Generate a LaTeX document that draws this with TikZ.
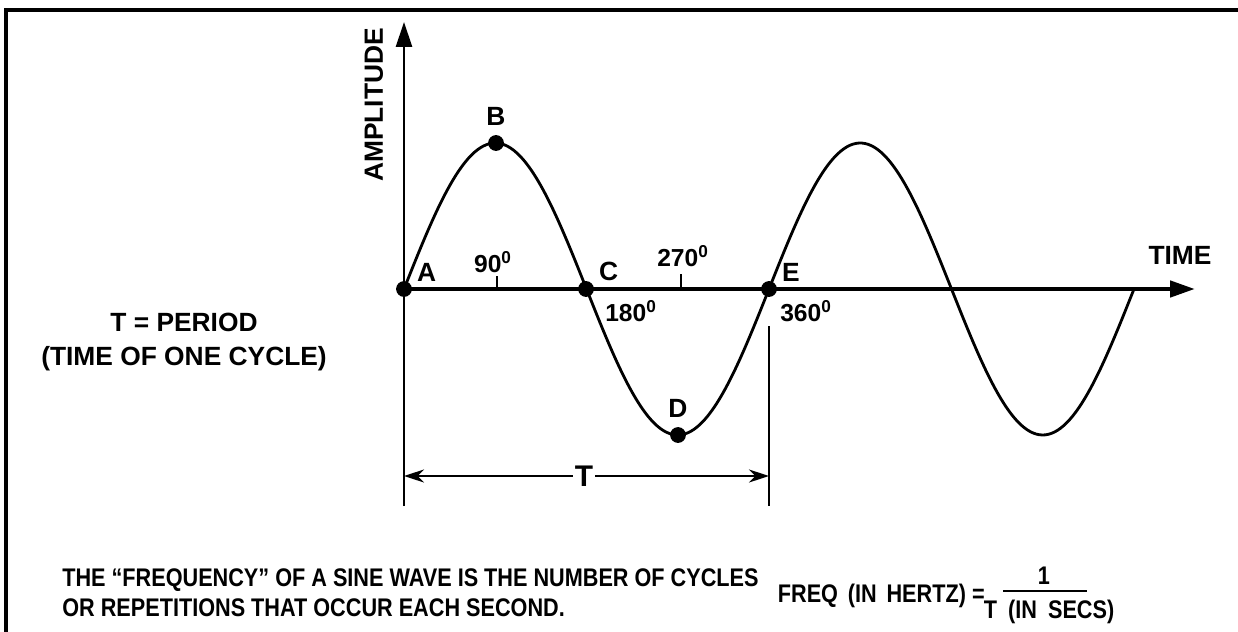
\documentclass[tikz,border=0pt]{standalone}
\usepackage{fontspec}
\setmainfont{Liberation Sans}
\newfontfamily\narrowsans{Liberation Sans}[FakeStretch=0.85,Ligatures=TeX]
\usepackage{tikz}
\usetikzlibrary{arrows.meta,positioning,calc}

\begin{document}
\begin{tikzpicture}[
    x=0.02cm,y=-0.02cm,
    node distance=2pt and 2pt,
    axis/.style={line width=2.6pt,-{Triangle[length=5mm,width=3.2mm]}},
    yaxis/.style={line width=1.6pt,-{Triangle[length=5mm,width=3.2mm]}},
    wave/.style={line width=1.6pt},
    dot/.style={circle,fill=black,inner sep=0pt,minimum size=9pt},
    lbl/.style={font=\bfseries\fontsize{15}{17}\selectfont,inner sep=1pt},
    deg/.style={font=\bfseries\fontsize{14}{16}\selectfont,inner sep=1pt},
    txt/.style={font=\narrowsans\bfseries\fontsize{14.5}{17}\selectfont,inner sep=0pt},
    tick/.style={line width=1pt},
    dim/.style={line width=1.2pt,-{Stealth[length=4mm,width=2.6mm]}},
    bar/.style={line width=1.6pt}
  ]
    \useasboundingbox (0,0) rectangle (1238,632);
    % frame
    \draw[line width=2.6pt] (6,632) -- (6,10) -- (1238,10);

    % points on the wave
    \node[dot] (A) at (404,289) {};
    \node[dot] (B) at (496,143) {};
    \node[dot] (C) at (586,289) {};
    \node[dot] (D) at (678,435) {};
    \node[dot] (E) at (769,289) {};
    \coordinate (ybot) at (404,506);
    \coordinate (ytop) at (404,22);
    \coordinate (xend) at (1195,289);
    \coordinate (Ebot) at (769,506);
    \coordinate (Etop) at (769,326);

    % axes
    \draw[yaxis] (ybot) -- (ytop);
    \draw[axis] (A.center) -- (xend);
    \draw[tick] (497,289) -- ++(0,-13);
    \draw[tick] (681,289) -- ++(0,-15);
    \draw[bar] (Etop) -- (Ebot);

    % sine wave, two cycles
    \draw[wave] plot[domain=0:730,samples=240,smooth] ({404+\x},{289-146*sin(\x/365*360)});

    % labels
    \node[lbl,above right=0pt and 3pt of A] {A};
    \node[lbl,above=4pt of B] {B};
    \node[lbl,above right=0pt and 3pt of C] {C};
    \node[lbl,above=4pt of D] {D};
    \node[lbl,above right=0pt and 3pt of E] {E};
    \node[deg] (deg90) at (493,262) {90\textsuperscript{0}};
    \node[deg] (deg180) at (631,311) {180\textsuperscript{0}};
    \node[deg] (deg270) at (683,256) {270\textsuperscript{0}};
    \node[deg] (deg360) at (806,311) {360\textsuperscript{0}};
    \node[lbl] (time) at (1180,255) {TIME};
    \node[lbl,rotate=90] (amp) at (374,105) {AMPLITUDE};

    % period
    \node[lbl,font=\bfseries\fontsize{17}{17}\selectfont] (T) at (584,476) {T};
    \draw[dim] (T.west) -- (A.center |- T.west);
    \draw[dim] (T.east) -- (Ebot |- T.east);
    \node[lbl,align=center,font=\bfseries\fontsize{15}{19}\selectfont] (period) at (184,342)
      {T = PERIOD\\(TIME OF ONE CYCLE)};

    % frequency note
    \node[txt,anchor=west,align=left] (note) at (62,593)
      {THE “FREQUENCY” OF A SINE WAVE IS THE NUMBER OF CYCLES\\
       OR REPETITIONS THAT OCCUR EACH SECOND.};
    \node[txt] (num) at (1044,576) {1};
    \node[txt] (den) at (1049,612) {T\hspace{0.2em} (IN\hspace{0.2em} SECS)};
    \draw[line width=1pt] (1003,591) -- (1087,591);
    \node[txt,anchor=east] (freq) at (985,596) {FREQ\hspace{0.15em} (IN\hspace{0.15em} HERTZ) =};
  \end{tikzpicture}
\end{document}
